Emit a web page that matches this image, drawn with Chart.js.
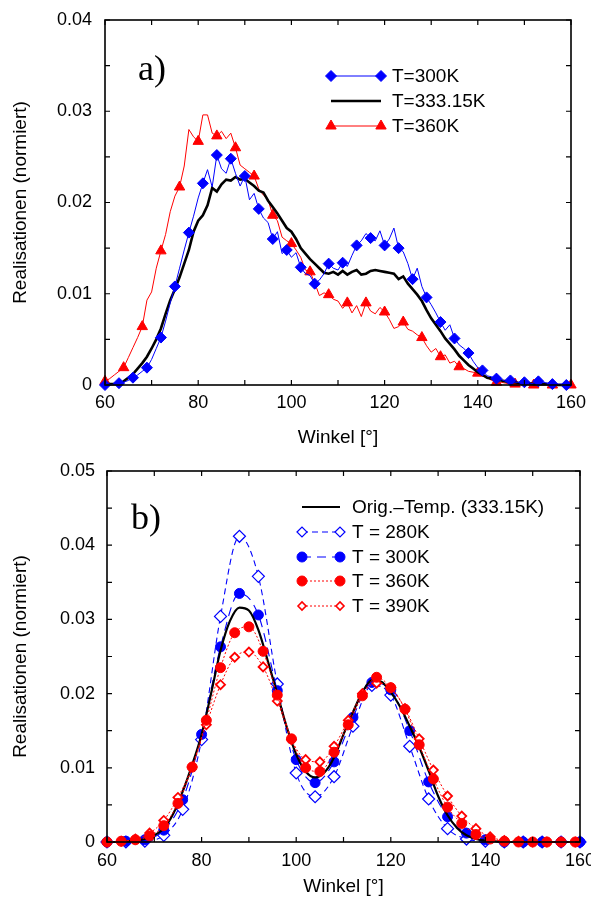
<!DOCTYPE html>
<html>
<head>
<meta charset="utf-8">
<script src="https://cdn.jsdelivr.net/npm/chart.js@4.4.1/dist/chart.umd.min.js"></script>
<style>
  body { margin: 0; background: #fff; }
  #wrap { position: relative; width: 591px; height: 899px; }
  canvas { position: absolute; left: 0; }
  #chartA { top: 0; }
  #chartB { top: 450px; }
</style>
</head>
<body>
<div id="wrap">
  <canvas id="chartA"></canvas>
  <canvas id="chartB"></canvas>
</div>
<script>
// ---- panel a) data, one value per degree ----
const anglesA = [60,61,62,63,64,65,66,67,68,69,70,71,72,73,74,75,76,77,78,79,
  80,81,82,83,84,85,86,87,88,89,90,91,92,93,94,95,96,97,98,99,
  100,101,102,103,104,105,106,107,108,109,110,111,112,113,114,115,116,117,118,119,
  120,121,122,123,124,125,126,127,128,129,130,131,132,133,134,135,136,137,138,139,
  140,141,142,143,144,145,146,147,148,149,150,151,152,153,154,155,156,157,158,159,160];

const t300A = [0,0,0.0001,0.0002,0.0003,0.0005,0.0008,0.0011,0.0015,0.0019,
  0.0028,0.0040,0.0052,0.0070,0.0090,0.0108,0.0128,0.0148,0.0167,0.0185,
  0.0205,0.0221,0.0236,0.0217,0.0252,0.0237,0.0232,0.0248,0.0232,0.0218,
  0.0229,0.0203,0.0210,0.0193,0.0183,0.0178,0.0160,0.0168,0.0144,0.0148,
  0.0140,0.0145,0.0129,0.0122,0.0120,0.0111,0.0115,0.0122,0.0133,0.0128,
  0.0126,0.0134,0.0130,0.0142,0.0153,0.0158,0.0166,0.0161,0.0158,0.0169,
  0.0153,0.0160,0.0172,0.0150,0.0146,0.0133,0.0116,0.0128,0.0108,0.0096,
  0.0088,0.0079,0.0069,0.0060,0.0066,0.0051,0.0044,0.0040,0.0035,0.0026,
  0.0019,0.0016,0.0010,0.0009,0.0007,0.0006,0.0004,0.0005,0.0003,0.0003,
  0.0003,0.0001,0.0002,0.0004,0.0003,0.0002,0.0001,0.0001,0.0001,0,0];

const t333A = [0,0.0001,0.0001,0.0002,0.0004,0.0008,0.0012,0.0018,0.0024,0.0031,
  0.0040,0.0050,0.0062,0.0078,0.0093,0.0105,0.0118,0.0133,0.0148,0.0168,
  0.0180,0.0186,0.0197,0.0216,0.0212,0.0220,0.0225,0.0224,0.0228,0.0225,
  0.0226,0.0222,0.0218,0.0213,0.0211,0.0202,0.0195,0.0188,0.0180,0.0172,
  0.0168,0.0160,0.0150,0.0144,0.0138,0.0133,0.0128,0.0123,0.0122,0.0124,
  0.0121,0.0125,0.0121,0.0124,0.0126,0.0121,0.0122,0.0125,0.0126,0.0125,
  0.0124,0.0123,0.0122,0.0116,0.0119,0.0111,0.0105,0.0099,0.0092,0.0082,
  0.0073,0.0066,0.0059,0.0051,0.0045,0.0039,0.0032,0.0027,0.0022,0.0018,
  0.0014,0.0011,0.0008,0.0007,0.0006,0.0005,0.0004,0.0003,0.0003,0.0002,
  0.0002,0.0002,0.0001,0.0001,0.0001,0.0001,0.0001,0,0,0,0];

const t360A = [0.0004,0.0007,0.0011,0.0015,0.0019,0.0030,0.0041,0.0052,0.0064,0.0093,
  0.0102,0.0128,0.0147,0.0165,0.0190,0.0207,0.0217,0.0240,0.0280,0.0272,
  0.0267,0.0296,0.0296,0.0276,0.0273,0.0278,0.0270,0.0276,0.0260,0.0241,
  0.0237,0.0233,0.0229,0.0215,0.0208,0.0203,0.0186,0.0180,0.0162,0.0158,
  0.0155,0.0148,0.0140,0.0126,0.0124,0.0112,0.0098,0.0101,0.0099,0.0094,
  0.0092,0.0084,0.0090,0.0079,0.0087,0.0075,0.0090,0.0081,0.0078,0.0085,
  0.0080,0.0072,0.0062,0.0064,0.0069,0.0061,0.0059,0.0055,0.0052,0.0043,
  0.0036,0.0040,0.0031,0.0033,0.0024,0.0026,0.0020,0.0018,0.0015,0.0014,
  0.0013,0.0010,0.0008,0.0005,0.0003,0.0003,0.0002,0.0001,0.0001,0.0001,
  0.0001,0,0,0,0,0,0,0,0,0,0];

// ---- panel b) data ----
const anglesB2 = [60,62,64,66,68,70,72,74,76,78,80,82,84,86,88,90,92,94,96,98,
  100,102,104,106,108,110,112,114,116,118,120,122,124,126,128,130,132,134,136,138,
  140,142,144,146,148,150,152,154,156,158,160];
const origB = [0,0,0.0001,0.0002,0.0004,0.0009,0.0018,0.0038,0.0068,0.0104,
  0.0145,0.0200,0.0258,0.0298,0.0316,0.0312,0.0286,0.0244,0.0200,0.0155,
  0.0118,0.0095,0.0087,0.0094,0.0114,0.0145,0.0175,0.0202,0.0218,0.0216,
  0.0202,0.0182,0.0156,0.0128,0.0096,0.0062,0.0036,0.0019,0.0009,0.0004,
  0.0002,0.0001,0,0,0,0,0,0,0,0,0];

const anglesB4 = [60,64,68,72,76,80,84,88,92,96,100,104,108,112,116,120,124,128,132,136,140,144,148,152,156,160];
const t280B = [0,0,0.0001,0.0009,0.0044,0.0138,0.0304,0.0412,0.0358,0.0213,
  0.0093,0.0061,0.0088,0.0156,0.0211,0.0198,0.0129,0.0058,0.0018,0.0004,
  0.0001,0,0,0,0,0];
const t300B = [0,0.0001,0.0003,0.0016,0.0057,0.0145,0.0263,0.0335,0.0306,0.0204,
  0.0111,0.0080,0.0108,0.0168,0.0215,0.0205,0.0150,0.0081,0.0034,0.0012,
  0.0003,0,0,0,0,0];

const anglesB3 = [60,63,66,69,72,75,78,81,84,87,90,93,96,99,102,105,108,111,114,117,
  120,123,126,129,132,135,138,141,144,147,150,153,156,159];
const t360B = [0,0.0001,0.0003,0.0008,0.0022,0.0052,0.0101,0.0164,0.0235,0.0282,
  0.0290,0.0257,0.0198,0.0139,0.0100,0.0095,0.0121,0.0158,0.0197,0.0222,
  0.0208,0.0179,0.0131,0.0085,0.0047,0.0025,0.0010,0.0004,0.0001,0,0,0,0,0];
const t390B = [0,0.0001,0.0004,0.0012,0.0029,0.0060,0.0101,0.0158,0.0212,0.0249,
  0.0256,0.0236,0.0190,0.0138,0.0111,0.0108,0.0129,0.0164,0.0200,0.0214,
  0.0208,0.0180,0.0139,0.0097,0.0062,0.0035,0.0018,0.0007,0.0002,0.0001,0,0,0,0];

const BLUE = '#0000ff';
const RED = '#ff0000';
const FONT = '"Liberation Sans", Arial, Helvetica, sans-serif';

function pairs(xs, ys) {
  return xs.map((x, i) => ({x: x, y: ys[i]}));
}

// box round the plot with ticks pointing inwards on all four sides
const frameTicks = {
  id: 'frameTicks',
  afterDraw(chart) {
    const {ctx, chartArea: a, scales} = chart;
    const len = 5;
    ctx.save();
    ctx.strokeStyle = '#000';
    ctx.lineWidth = 1.6;
    ctx.strokeRect(a.left, a.top, a.right - a.left, a.bottom - a.top);
    ctx.lineWidth = 1.2;
    ctx.beginPath();
    scales.x.ticks.forEach(t => {
      const px = scales.x.getPixelForValue(t.value);
      ctx.moveTo(px, a.bottom); ctx.lineTo(px, a.bottom - len);
      ctx.moveTo(px, a.top); ctx.lineTo(px, a.top + len);
    });
    scales.y.ticks.forEach(t => {
      const py = scales.y.getPixelForValue(t.value);
      ctx.moveTo(a.left, py); ctx.lineTo(a.left + len, py);
      ctx.moveTo(a.right, py); ctx.lineTo(a.right - len, py);
    });
    ctx.stroke();
    ctx.restore();
  }
};

// legend inside the plot plus the panel letter
const innerLegend = {
  id: 'innerLegend',
  afterDraw(chart, args, opts) {
    const ctx = chart.ctx;
    ctx.save();
    ctx.font = '36px "Liberation Serif", "Times New Roman", serif';
    ctx.fillStyle = '#000';
    ctx.textBaseline = 'alphabetic';
    ctx.fillText(opts.letter, opts.letterX, opts.letterY);
    ctx.font = '19px ' + FONT;
    ctx.textBaseline = 'middle';
    opts.items.forEach(it => {
      ctx.strokeStyle = it.color;
      ctx.lineWidth = it.width;
      ctx.setLineDash(it.dash || []);
      ctx.beginPath();
      ctx.moveTo(opts.x1, it.y);
      ctx.lineTo(opts.x2, it.y);
      ctx.stroke();
      ctx.setLineDash([]);
      if (it.marker) {
        ctx.fillStyle = it.fill;
        ctx.strokeStyle = it.color;
        ctx.lineWidth = it.markerBorder;
        [opts.x1, opts.x2].forEach(mx => {
          Chart.helpers.drawPoint(ctx, {pointStyle: it.marker, radius: it.radius, borderWidth: it.markerBorder, rotation: 0}, mx, it.y);
        });
      }
      ctx.fillStyle = '#000';
      ctx.fillText(it.label, opts.textX, it.y + 1);
    });
    ctx.restore();
  }
};

function axes(yMax, yPad, xPad, leftW, bottomH) {
  return {
    x: {
      type: 'linear', min: 60, max: 160,
      grid: {display: false, drawTicks: false},
      border: {display: false},
      ticks: {
        stepSize: 10, autoSkip: false, maxRotation: 0, padding: xPad,
        color: '#000', font: {family: FONT, size: 18},
        callback: v => (v % 20 === 0 ? String(v) : '')
      },
      title: {display: true, text: 'Winkel [°]', color: '#000', font: {family: FONT, size: 19}, padding: {top: 0, bottom: 1}},
      afterFit: s => { s.height = bottomH; s.paddingLeft = 0; s.paddingRight = 0; }
    },
    y: {
      min: 0, max: yMax,
      grid: {display: false, drawTicks: false},
      border: {display: false},
      ticks: {
        stepSize: 0.005, autoSkip: false, padding: yPad,
        color: '#000', font: {family: FONT, size: 18},
        callback: v => {
          const h = Math.round(v * 1000);
          if (h % 10 !== 0) return '';
          return h === 0 ? '0' : (h / 1000).toFixed(2);
        }
      },
      title: {display: true, text: 'Realisationen (normiert)', color: '#000', font: {family: FONT, size: 19}, padding: {top: 9, bottom: 0}},
      afterFit: s => { s.width = leftW; s.paddingTop = 0; s.paddingBottom = 0; }
    }
  };
}

function setSize(canvas, w, h) {
  canvas.width = w; canvas.height = h;
  canvas.style.width = w + 'px'; canvas.style.height = h + 'px';
}

setSize(document.getElementById('chartA'), 591, 450);
setSize(document.getElementById('chartB'), 591, 449);

const everyNth = n => ctx => ((anglesA[ctx.dataIndex] - 60) % n === 0 ? 1 : 0);

// Panel a
const chartA = new Chart(document.getElementById('chartA'), {
  type: 'line',
  data: {
    datasets: [
      {
        label: 'T=300K', data: pairs(anglesA, t300A),
        borderColor: BLUE, backgroundColor: BLUE, borderWidth: 1,
        pointStyle: 'rectRot',
        pointRadius: c => everyNth(3)(c) * 5.5, pointBorderWidth: 1,
        tension: 0, clip: false
      },
      {
        label: 'T=333.15K', data: pairs(anglesA, t333A),
        borderColor: '#000', borderWidth: 2.6, pointRadius: 0,
        tension: 0, clip: false
      },
      {
        label: 'T=360K', data: pairs(anglesA, t360A),
        borderColor: RED, backgroundColor: RED, borderWidth: 1,
        pointStyle: 'triangle',
        pointRadius: c => everyNth(4)(c) * 6, pointBorderWidth: 1,
        tension: 0, clip: false
      }
    ]
  },
  options: {
    responsive: false, animation: false,
    layout: {padding: {left: 0, top: 20, right: 20, bottom: 0}},
    scales: axes(0.04, 13, 7, 105, 65),
    plugins: {
      legend: {display: false}, tooltip: {enabled: false},
      innerLegend: {
        letter: 'a)', letterX: 138, letterY: 80,
        x1: 331, x2: 381, textX: 392,
        items: [
          {label: 'T=300K', y: 76, color: BLUE, width: 1, marker: 'rectRot', radius: 5.5, fill: BLUE, markerBorder: 1},
          {label: 'T=333.15K', y: 101, color: '#000', width: 2.6},
          {label: 'T=360K', y: 126, color: RED, width: 1, marker: 'triangle', radius: 6, fill: RED, markerBorder: 1}
        ]
      }
    }
  },
  plugins: [frameTicks, innerLegend]
});

// Panel b
const chartB = new Chart(document.getElementById('chartB'), {
  type: 'line',
  data: {
    datasets: [
      {
        label: 'T = 360K', data: pairs(anglesB3, t360B),
        borderColor: RED, backgroundColor: RED, borderWidth: 1, borderDash: [2, 2],
        pointStyle: 'circle', pointRadius: 5, pointBorderWidth: 1,
        cubicInterpolationMode: 'monotone', clip: false
      },
      {
        label: 'T = 390K', data: pairs(anglesB3, t390B),
        borderColor: RED, backgroundColor: '#fff', borderWidth: 1, borderDash: [2, 2],
        pointStyle: 'rectRot', pointRadius: 4.5, pointBorderWidth: 1.8,
        cubicInterpolationMode: 'monotone', clip: false
      },
      {
        label: 'Orig.–Temp. (333.15K)', data: pairs(anglesB2, origB),
        borderColor: '#000', borderWidth: 2.2, pointRadius: 0,
        cubicInterpolationMode: 'monotone', clip: false
      },
      {
        label: 'T = 300K', data: pairs(anglesB4, t300B),
        borderColor: BLUE, backgroundColor: BLUE, borderWidth: 1.1, borderDash: [9, 6],
        pointStyle: 'circle', pointRadius: 5, pointBorderWidth: 1,
        cubicInterpolationMode: 'monotone', clip: false
      },
      {
        label: 'T = 280K', data: pairs(anglesB4, t280B),
        borderColor: BLUE, backgroundColor: '#fff', borderWidth: 1.1, borderDash: [6, 4],
        pointStyle: 'rectRot', pointRadius: 6, pointBorderWidth: 1.2,
        cubicInterpolationMode: 'monotone', clip: false
      }
    ]
  },
  options: {
    responsive: false, animation: false,
    layout: {padding: {left: 0, top: 21, right: 11, bottom: 0}},
    scales: axes(0.05, 12, 8, 107, 57),
    plugins: {
      legend: {display: false}, tooltip: {enabled: false},
      innerLegend: {
        letter: 'b)', letterX: 131, letterY: 79,
        x1: 302, x2: 340, textX: 352,
        items: [
          {label: 'Orig.–Temp. (333.15K)', y: 57, color: '#000', width: 2.2},
          {label: 'T = 280K', y: 82, color: BLUE, width: 1.1, dash: [6, 4], marker: 'rectRot', radius: 5, fill: '#fff', markerBorder: 1.2},
          {label: 'T = 300K', y: 107, color: BLUE, width: 1.1, dash: [9, 6], marker: 'circle', radius: 5, fill: BLUE, markerBorder: 1},
          {label: 'T = 360K', y: 131, color: RED, width: 1, dash: [2, 2], marker: 'circle', radius: 5, fill: RED, markerBorder: 1},
          {label: 'T = 390K', y: 156, color: RED, width: 1, dash: [2, 2], marker: 'rectRot', radius: 4, fill: '#fff', markerBorder: 1.6}
        ]
      }
    }
  },
  plugins: [frameTicks, innerLegend]
});
</script>
</body>
</html>
